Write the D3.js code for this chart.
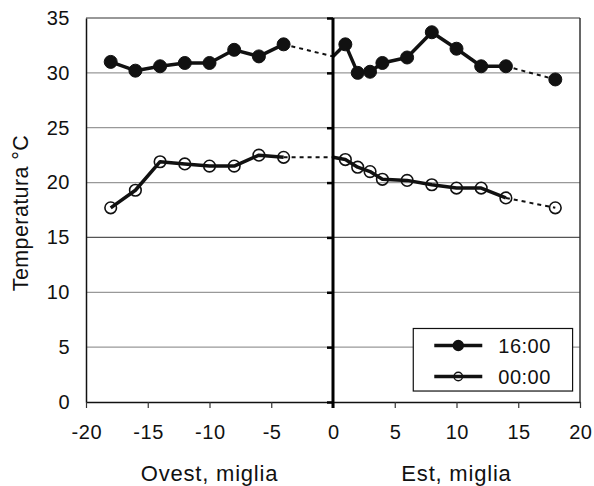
<!DOCTYPE html>
<html>
<head>
<meta charset="utf-8">
<script src="https://cdn.jsdelivr.net/npm/d3@7"></script>
<style>
  body { margin: 0; background: #fff; }
  svg { display: block; font-family: "Liberation Sans", Arial, sans-serif; }
</style>
</head>
<body>
<svg id="chart" width="594" height="486"></svg>
<script>
// distances (miles) and temperatures
const xWest = [-18, -16, -14, -12, -10, -8, -6, -4];
const t16West = [31.0, 30.2, 30.6, 30.9, 30.9, 32.1, 31.5, 32.6];
const t00West = [17.7, 19.3, 21.9, 21.7, 21.5, 21.5, 22.5, 22.3];

const xEast = [1, 2, 3, 4, 6, 8, 10, 12, 14];
const t16East = [32.6, 30.0, 30.1, 30.9, 31.4, 33.7, 32.2, 30.6, 30.6];
const t00East = [22.1, 21.4, 21.0, 20.3, 20.2, 19.8, 19.5, 19.5, 18.6];

// value where the lines meet the centre axis (no marker there)
const t16Axis = 31.5;
const t00Axis = 22.3;

// last, isolated point on the east side
const xFar = 18;
const t16Far = 29.4;
const t00Far = 17.7;

const xTicks = [-20, -15, -10, -5, 0, 5, 10, 15, 20];
const yTicks = [0, 5, 10, 15, 20, 25, 30, 35];
const seriesNames = ["16:00", "00:00"];

const svg = d3.select("#chart");
const margin = { top: 18, right: 14, bottom: 84, left: 86 };
const width = 594 - margin.left - margin.right;
const height = 486 - margin.top - margin.bottom;

const x = d3.scaleLinear().domain([-20, 20]).range([0, width]);
const y = d3.scaleLinear().domain([0, 35]).range([height, 0]);

const g = svg.append("g").attr("transform", `translate(${margin.left},${margin.top})`);

// horizontal grid
g.append("g")
  .selectAll("line")
  .data(yTicks.filter(d => d > 0 && d < 35))
  .enter().append("line")
  .attr("x1", 0).attr("x2", width)
  .attr("y1", d => y(d)).attr("y2", d => y(d))
  .attr("stroke", d => d === 15 ? "#555" : "#999")
  .attr("stroke-width", 1.2);

// frame top / right
g.append("line").attr("x1", 0).attr("x2", width).attr("y1", 0).attr("y2", 0)
  .attr("stroke", "#333").attr("stroke-width", 1.2);
g.append("line").attr("x1", width).attr("x2", width).attr("y1", 0).attr("y2", height)
  .attr("stroke", "#333").attr("stroke-width", 1.5);

// y axis (labels only, plus left border)
const yAxis = g.append("g")
  .call(d3.axisLeft(y).tickValues(yTicks).tickSize(0).tickPadding(16)
    .tickFormat(d => String(d)));
yAxis.select(".domain").attr("stroke", "#111").attr("stroke-width", 1.5);
yAxis.selectAll("text").attr("font-size", 20).attr("fill", "#111")
  .attr("letter-spacing", 0.5)
  .attr("font-family", "Liberation Sans, Arial, sans-serif");

// x axis
const xAxis = g.append("g")
  .attr("transform", `translate(0,${height})`)
  .call(d3.axisBottom(x).tickValues(xTicks).tickSize(6).tickPadding(17).tickSizeOuter(0)
    .tickFormat(d => String(d)));
xAxis.select(".domain").attr("stroke", "#111").attr("stroke-width", 1.5);
xAxis.selectAll(".tick line").attr("stroke", "#333").attr("stroke-width", 1.2);
xAxis.selectAll("text").attr("font-size", 20).attr("fill", "#111")
  .attr("letter-spacing", 0.5).attr("dx", 0.3)
  .attr("font-family", "Liberation Sans, Arial, sans-serif");

// axis titles
svg.append("text")
  .attr("x", margin.left + x(-10)).attr("y", 481)
  .attr("text-anchor", "middle").attr("font-size", 22).attr("fill", "#111")
  .attr("letter-spacing", 0.8)
  .text("Ovest, miglia");
svg.append("text")
  .attr("x", margin.left + x(10)).attr("y", 481)
  .attr("text-anchor", "middle").attr("font-size", 22).attr("fill", "#111")
  .attr("letter-spacing", 0.8)
  .text("Est, miglia");
svg.append("text")
  .attr("transform", "translate(28,213) rotate(-90)")
  .attr("text-anchor", "middle").attr("font-size", 21.5).attr("fill", "#111")
  .attr("letter-spacing", 0.4)
  .text("Temperatura °C");

const line = d3.line().x(d => x(d[0])).y(d => y(d[1]));

const series = [
  { west: t16West, east: t16East, axis: t16Axis, far: t16Far, filled: true },
  { west: t00West, east: t00East, axis: t00Axis, far: t00Far, filled: false }
];

series.forEach(s => {
  const west = xWest.map((v, i) => [v, s.west[i]]);
  const east = [[0, s.axis]].concat(xEast.map((v, i) => [v, s.east[i]]));

  // dashed links
  g.append("path")
    .attr("d", line([west[west.length - 1], [0, s.axis]]))
    .attr("fill", "none").attr("stroke", "#111").attr("stroke-width", 2)
    .attr("stroke-dasharray", "4,4");
  g.append("path")
    .attr("d", line([east[east.length - 1], [xFar, s.far]]))
    .attr("fill", "none").attr("stroke", "#111").attr("stroke-width", 2)
    .attr("stroke-dasharray", "4,4");

  [west, east].forEach(seg => {
    g.append("path")
      .attr("d", line(seg))
      .attr("fill", "none").attr("stroke", "#111").attr("stroke-width", 3.5)
      .attr("stroke-linejoin", "round");
  });

  const pts = west.concat(east.slice(1)).concat([[xFar, s.far]]);
  g.append("g").selectAll("circle")
    .data(pts)
    .enter().append("circle")
    .attr("cx", d => x(d[0])).attr("cy", d => y(d[1]))
    .attr("r", s.filled ? 6.5 : 5.8)
    .attr("fill", s.filled ? "#111" : "none")
    .attr("stroke", "#111").attr("stroke-width", s.filled ? 1 : 1.6);
});

// centre axis at 0
g.append("line")
  .attr("x1", x(0)).attr("x2", x(0)).attr("y1", 0).attr("y2", height + 6)
  .attr("stroke", "#000").attr("stroke-width", 3);
g.append("g")
  .attr("transform", `translate(${x(0)},0)`)
  .call(d3.axisLeft(y).tickValues(yTicks).tickSize(6).tickFormat(""))
  .call(a => a.select(".domain").remove())
  .selectAll(".tick line").attr("stroke", "#000").attr("stroke-width", 2.5);

// legend
const lg = g.append("g").attr("transform", `translate(${x(6.5)},${y(6.7)})`);
lg.append("rect")
  .attr("width", x(19.4) - x(6.5)).attr("height", y(1.0) - y(6.7))
  .attr("fill", "#fff").attr("stroke", "#111").attr("stroke-width", 1.2);
seriesNames.forEach((name, i) => {
  const yy = 17 + i * 31;
  lg.append("line").attr("x1", 21).attr("x2", 69).attr("y1", yy).attr("y2", yy)
    .attr("stroke", "#111").attr("stroke-width", 3.5);
  lg.append("circle").attr("cx", 45).attr("cy", yy)
    .attr("r", i === 0 ? 5 : 4.2)
    .attr("fill", i === 0 ? "#111" : "none")
    .attr("stroke", "#111").attr("stroke-width", 1.4);
  lg.append("text").attr("x", 85).attr("y", yy).attr("dy", "0.36em")
    .attr("font-size", 20).attr("fill", "#111").attr("letter-spacing", 0.5)
    .text(name);
});
</script>
</body>
</html>
